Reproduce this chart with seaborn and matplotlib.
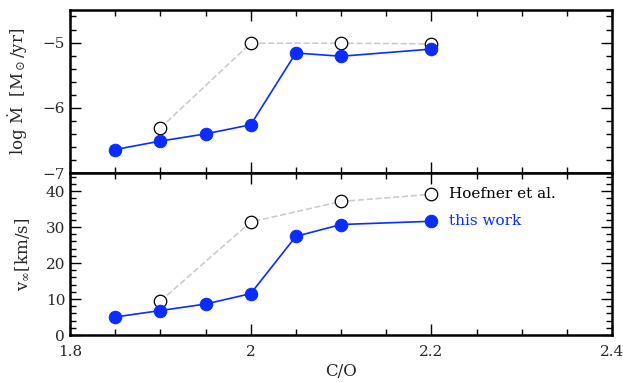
import numpy as np
import pandas as pd
import matplotlib
matplotlib.use("Agg")
import matplotlib.pyplot as plt
from matplotlib.ticker import MultipleLocator
import seaborn as sns

# C/O ratios and results
co_this = [1.85, 1.90, 1.95, 2.00, 2.05, 2.10, 2.20]
mdot_this = [-6.64, -6.51, -6.40, -6.26, -5.16, -5.21, -5.10]
vinf_this = [5.0, 6.8, 8.6, 11.5, 27.4, 30.7, 31.6]

co_hoef = [1.90, 2.00, 2.10, 2.20]
mdot_hoef = [-6.31, -5.01, -5.01, -5.02]
vinf_hoef = [9.4, 31.4, 37.1, 39.1]

this_df = pd.DataFrame({"co": co_this, "mdot": mdot_this, "vinf": vinf_this})
hoef_df = pd.DataFrame({"co": co_hoef, "mdot": mdot_hoef, "vinf": vinf_hoef})

blue = "#0a2cff"
grey = "#cccccc"

sns.set_theme(style="ticks")
plt.rcParams["font.family"] = ["DejaVu Serif"]
plt.rcParams["mathtext.fontset"] = "dejavuserif"

fig = plt.figure(figsize=(6.23, 3.82), dpi=100)
ax1 = fig.add_axes([0.1124, 0.547, 0.870, 0.427])
ax2 = fig.add_axes([0.1124, 0.123, 0.870, 0.424], sharex=ax1)

for ax, col in [(ax1, "mdot"), (ax2, "vinf")]:
    sns.lineplot(data=hoef_df, x="co", y=col, ax=ax, color=grey, lw=1.2,
                 dashes=(6, 4), linestyle="--", marker="o", markersize=9,
                 markerfacecolor="white", markeredgecolor="black",
                 markeredgewidth=0.9)
    sns.lineplot(data=this_df, x="co", y=col, ax=ax, color=blue, lw=1.2,
                 marker="o", markersize=9, markerfacecolor=blue,
                 markeredgecolor=blue)
    ax.tick_params(which="both", direction="in", top=True, right=True,
                   width=1, labelsize=11, color="black")
    ax.tick_params(which="major", length=8)
    ax.tick_params(which="minor", length=4)
    for s in ax.spines.values():
        s.set_linewidth(1.8)
        s.set_color("black")

ax1.set_xlim(1.8, 2.4)
ax1.xaxis.set_major_locator(MultipleLocator(0.2))
ax1.xaxis.set_minor_locator(MultipleLocator(0.05))
ax1.set_ylim(-7, -4.5)
ax1.yaxis.set_major_locator(MultipleLocator(1))
ax1.yaxis.set_minor_locator(MultipleLocator(0.2))
ax1.yaxis.set_major_formatter(lambda v, p: f"{v:g}".replace("-", "\u2212"))
ax1.tick_params(labelbottom=False)
ax1.set_xlabel("")
ax1.set_ylabel("log \u1E40  [M$_\\odot$/yr]", fontsize=12)

ax2.set_ylim(0, 45)
ax2.yaxis.set_major_locator(MultipleLocator(10))
ax2.yaxis.set_minor_locator(MultipleLocator(2))
ax2.xaxis.set_major_formatter(lambda v, p: f"{v:g}")
ax2.tick_params(axis="x", which="major", pad=7)
ax2.set_xlabel("C/O", fontsize=12, labelpad=3)
ax2.set_ylabel(r"v$_\infty$[km/s]", fontsize=12)

# labels next to the last point of each series
ax2.annotate("Hoefner et al.", (co_hoef[-1], vinf_hoef[-1]), xytext=(13, 0),
             textcoords="offset points", va="center", ha="left",
             fontsize=11, color="black")
ax2.annotate("this work", (co_this[-1], vinf_this[-1]), xytext=(13, 0),
             textcoords="offset points", va="center", ha="left",
             fontsize=11, color=blue)

ax1.yaxis.set_label_coords(-0.075, 0.5)
ax2.yaxis.set_label_coords(-0.07, 0.5)

fig.savefig("out.png", dpi=100)
